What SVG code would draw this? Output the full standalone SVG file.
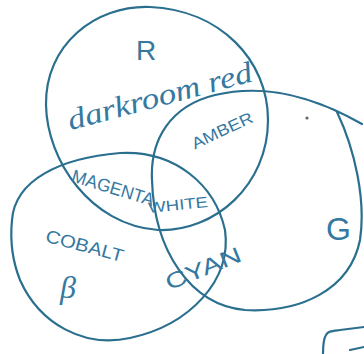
<svg xmlns="http://www.w3.org/2000/svg" width="364" height="354" viewBox="0 0 364 354">
<style>
.ring{fill:none;stroke:#2b6f8f;stroke-width:2.2;stroke-linecap:round;stroke-linejoin:round}
.cap{font-family:"Liberation Sans",Arial,sans-serif;fill:#3578a0}
.cur{font-family:"Liberation Serif","Times New Roman",serif;font-style:italic;fill:#3578a0}
</style>
<rect width="364" height="354" fill="#ffffff"/>
<g id="set-r">
<path class="ring" d="M 150 7 C 95 5, 45 45, 46 105 C 47 160, 90 225, 158 230 C 215 232, 268 185, 268 120 C 268 60, 220 10, 150 7 Z"/>
<text class="cap" x="136" y="60" font-size="28">R</text>
<text class="cur" x="160" y="106" font-size="30" text-anchor="middle" textLength="190" lengthAdjust="spacingAndGlyphs" transform="rotate(-15 160 97)">darkroom red</text>
</g>
<g id="set-g">
<path class="ring" d="M 362 124 C 320 100, 270 82, 215 95 C 170 106, 150 140, 152 180 C 154 250, 190 305, 245 310 C 300 313, 350 290, 360 240 C 366 200, 355 150, 337 112"/>
<text class="cap" x="326" y="240" font-size="32">G</text>
</g>
<g id="set-b">
<path class="ring" d="M 12 220 C 15 180, 60 158, 120 153 C 175 150, 215 185, 225 230 C 232 280, 190 325, 130 338 C 85 348, 40 325, 20 280 C 12 260, 10 240, 12 220 Z"/>
<text class="cap" x="85" y="252" font-size="18" text-anchor="middle" textLength="80" lengthAdjust="spacingAndGlyphs" transform="rotate(15 85 245)">COBALT</text>
<text class="cur" x="60" y="298" font-size="32">β</text>
</g>
<g id="overlaps">
<text id="amber" class="cap" x="222" y="136" font-size="16" text-anchor="middle" textLength="66" lengthAdjust="spacingAndGlyphs" transform="rotate(-25 222 130)">AMBER</text>
<text id="magenta" class="cap" x="113" y="194" font-size="18" text-anchor="middle" textLength="85" lengthAdjust="spacingAndGlyphs" transform="rotate(17 113 188)">MAGENTA</text>
<text id="white" class="cap" x="178" y="210" font-size="15" text-anchor="middle" textLength="60" lengthAdjust="spacingAndGlyphs" transform="rotate(-6 178 204)">WHITE</text>
<text id="cyan" class="cap" x="203" y="276" font-size="22" text-anchor="middle" textLength="80" lengthAdjust="spacingAndGlyphs" transform="rotate(-22 203 268)">CYAN</text>
</g>
<g id="connectors"></g>
<g id="extras">
<path class="ring" d="M 323 354 C 323 345, 324 338, 326 335 C 328 331, 332 331, 340 330 L 364 327"/>
<path class="ring" stroke-width="1.2" d="M 350 350 L 364 347"/>
<circle cx="307" cy="118" r="1.6" fill="#666"/>
</g>
</svg>
